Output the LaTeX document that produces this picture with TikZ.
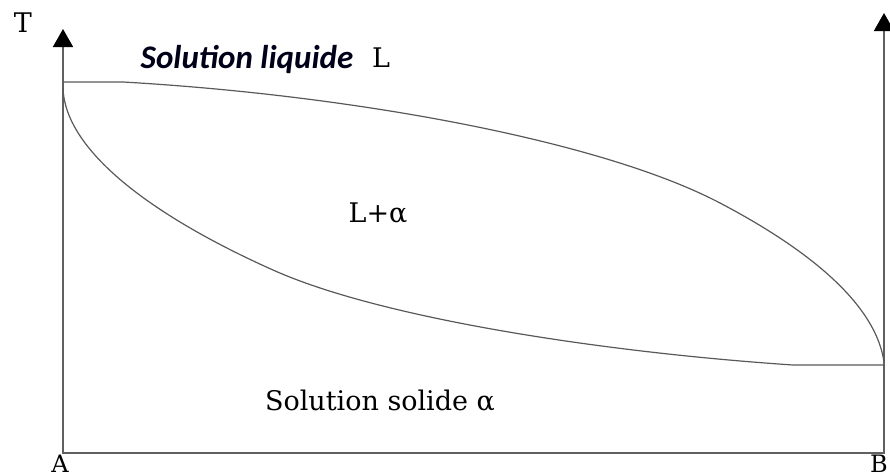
\documentclass[tikz,border=0pt]{standalone}
\usepackage{fontspec}
\setmainfont{DejaVu Serif}
\newfontfamily\calibrifont{Carlito}
\usetikzlibrary{arrows.meta}

\begin{document}
\begin{tikzpicture}[
        x=1pt,   % 1 px of the figure = 1pt
        y=-1pt,  % y runs downward
        axisline/.style={draw=gray!75!black, line width=1.8pt},
        curveline/.style={draw=black!65, line width=1.2pt},
        axislabel/.style={inner sep=0pt, anchor=base, font=\fontsize{27}{27}\selectfont},
        endlabel/.style={inner sep=0pt, anchor=north, font=\fontsize{24}{24}\selectfont},
        axistip/.tip={Triangle[length=18pt, width=20pt, color=black]},
    ]
    \useasboundingbox (0,0) rectangle (890,475);

    % Axes (T for A and for B, composition along the bottom)
    \coordinate (Atop) at (63,29);
    \coordinate (A0) at (63,453);
    \coordinate (B0) at (884,453);
    \coordinate (Btop) at (884,13);
    \draw[axisline, axistip-axistip] (Atop) -- (A0) -- (B0) -- (Btop);

    % Liquidus
    \coordinate (Lstart) at (63,82);
    \coordinate (Lmid) at (720,203);
    \coordinate (Lend) at (884,362);
    \draw[curveline] (Lstart) -- (123,82) .. controls (350,95) and (600,140) .. (Lmid)
        .. controls (800,245) and (875,300) .. (Lend);

    % Solidus
    \coordinate (Sstart) at (63,88);
    \coordinate (Smid) at (273,270);
    \coordinate (Send) at (884,365);
    \draw[curveline] (Sstart) .. controls (65,150) and (150,215) .. (Smid)
        .. controls (380,318) and (600,352) .. (793,365) -- (Send);

    % Labels
    \node[axislabel] (T) at (23,32) {T};
    \node[endlabel] (A) at (60,455) {A};
    \node[endlabel] (B) at (879,455) {B};
    \node[inner sep=0pt, anchor=base, text=black!90!blue,
          font=\calibrifont\bfseries\itshape\fontsize{33}{33}\selectfont] (liquid) at (247,68) {Solution liquide};
    \node[axislabel] (L) at (381,67) {L};
    \node[axislabel] (twophase) at (378,222) {L+α};
    \node[axislabel] (solid) at (380,410) {Solution solide α};

\end{tikzpicture}
\end{document}
